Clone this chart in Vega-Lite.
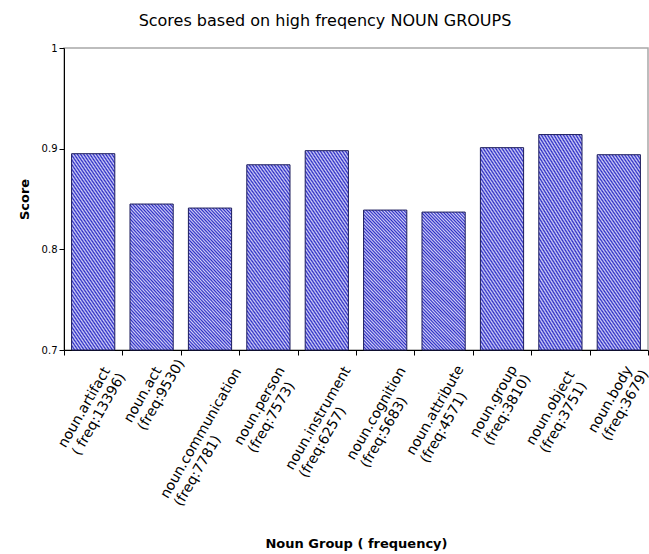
{
  "$schema": "https://vega.github.io/schema/vega-lite/v6.json",
  "autosize": "none",
  "width": 584,
  "height": 302,
  "padding": {"left": 64, "top": 48, "right": 1, "bottom": 204},
  "background": "white",
  "title": {
    "text": "Scores based on high freqency NOUN GROUPS",
    "font": "DejaVu Sans",
    "fontSize": 16,
    "fontWeight": "normal",
    "color": "black",
    "anchor": "middle",
    "dx": -31,
    "offset": 14
  },
  "config": {
    "view": {"stroke": "#a8a8a8", "strokeWidth": 1.5},
    "font": "DejaVu Sans"
  },
  "data": {
    "values": [
      {"label": "noun.artifact|( freq:13396)", "score": 0.895},
      {"label": "noun.act|(freq:9530)", "score": 0.845},
      {"label": "noun.communication|(freq:7781)", "score": 0.841},
      {"label": "noun.person|(freq:7573)", "score": 0.884},
      {"label": "noun.instrument|(freq:6257)", "score": 0.898},
      {"label": "noun.cognition|(freq:5683)", "score": 0.839},
      {"label": "noun.attribute|(freq:4571)", "score": 0.837},
      {"label": "noun.group|(freq:3810)", "score": 0.901},
      {"label": "noun.object|(freq:3751)", "score": 0.914},
      {"label": "noun.body|(freq:3679)", "score": 0.894}
    ]
  },
  "mark": {
    "type": "bar",
    "width": {"band": 0.74},
    "stroke": "#1c1c5c",
    "strokeWidth": 1,
    "fill": {
      "gradient": "linear",
      "x1": 0, "y1": 1, "x2": 0.39, "y2": -0.198,
      "stops": [
        {"offset": 0, "color": "#2a2ac4"},
        {"offset": 0.0089, "color": "#d4d4f8"},
        {"offset": 0.0179, "color": "#2a2ac4"},
        {"offset": 0.0268, "color": "#d4d4f8"},
        {"offset": 0.0357, "color": "#2a2ac4"},
        {"offset": 0.0446, "color": "#d4d4f8"},
        {"offset": 0.0536, "color": "#2a2ac4"},
        {"offset": 0.0625, "color": "#d4d4f8"},
        {"offset": 0.0714, "color": "#2a2ac4"},
        {"offset": 0.0804, "color": "#d4d4f8"},
        {"offset": 0.0893, "color": "#2a2ac4"},
        {"offset": 0.0982, "color": "#d4d4f8"},
        {"offset": 0.1071, "color": "#2a2ac4"},
        {"offset": 0.1161, "color": "#d4d4f8"},
        {"offset": 0.125, "color": "#2a2ac4"},
        {"offset": 0.1339, "color": "#d4d4f8"},
        {"offset": 0.1429, "color": "#2a2ac4"},
        {"offset": 0.1518, "color": "#d4d4f8"},
        {"offset": 0.1607, "color": "#2a2ac4"},
        {"offset": 0.1696, "color": "#d4d4f8"},
        {"offset": 0.1786, "color": "#2a2ac4"},
        {"offset": 0.1875, "color": "#d4d4f8"},
        {"offset": 0.1964, "color": "#2a2ac4"},
        {"offset": 0.2054, "color": "#d4d4f8"},
        {"offset": 0.2143, "color": "#2a2ac4"},
        {"offset": 0.2232, "color": "#d4d4f8"},
        {"offset": 0.2321, "color": "#2a2ac4"},
        {"offset": 0.2411, "color": "#d4d4f8"},
        {"offset": 0.25, "color": "#2a2ac4"},
        {"offset": 0.2589, "color": "#d4d4f8"},
        {"offset": 0.2679, "color": "#2a2ac4"},
        {"offset": 0.2768, "color": "#d4d4f8"},
        {"offset": 0.2857, "color": "#2a2ac4"},
        {"offset": 0.2946, "color": "#d4d4f8"},
        {"offset": 0.3036, "color": "#2a2ac4"},
        {"offset": 0.3125, "color": "#d4d4f8"},
        {"offset": 0.3214, "color": "#2a2ac4"},
        {"offset": 0.3304, "color": "#d4d4f8"},
        {"offset": 0.3393, "color": "#2a2ac4"},
        {"offset": 0.3482, "color": "#d4d4f8"},
        {"offset": 0.3571, "color": "#2a2ac4"},
        {"offset": 0.3661, "color": "#d4d4f8"},
        {"offset": 0.375, "color": "#2a2ac4"},
        {"offset": 0.3839, "color": "#d4d4f8"},
        {"offset": 0.3929, "color": "#2a2ac4"},
        {"offset": 0.4018, "color": "#d4d4f8"},
        {"offset": 0.4107, "color": "#2a2ac4"},
        {"offset": 0.4196, "color": "#d4d4f8"},
        {"offset": 0.4286, "color": "#2a2ac4"},
        {"offset": 0.4375, "color": "#d4d4f8"},
        {"offset": 0.4464, "color": "#2a2ac4"},
        {"offset": 0.4554, "color": "#d4d4f8"},
        {"offset": 0.4643, "color": "#2a2ac4"},
        {"offset": 0.4732, "color": "#d4d4f8"},
        {"offset": 0.4821, "color": "#2a2ac4"},
        {"offset": 0.4911, "color": "#d4d4f8"},
        {"offset": 0.5, "color": "#2a2ac4"},
        {"offset": 0.5089, "color": "#d4d4f8"},
        {"offset": 0.5179, "color": "#2a2ac4"},
        {"offset": 0.5268, "color": "#d4d4f8"},
        {"offset": 0.5357, "color": "#2a2ac4"},
        {"offset": 0.5446, "color": "#d4d4f8"},
        {"offset": 0.5536, "color": "#2a2ac4"},
        {"offset": 0.5625, "color": "#d4d4f8"},
        {"offset": 0.5714, "color": "#2a2ac4"},
        {"offset": 0.5804, "color": "#d4d4f8"},
        {"offset": 0.5893, "color": "#2a2ac4"},
        {"offset": 0.5982, "color": "#d4d4f8"},
        {"offset": 0.6071, "color": "#2a2ac4"},
        {"offset": 0.6161, "color": "#d4d4f8"},
        {"offset": 0.625, "color": "#2a2ac4"},
        {"offset": 0.6339, "color": "#d4d4f8"},
        {"offset": 0.6429, "color": "#2a2ac4"},
        {"offset": 0.6518, "color": "#d4d4f8"},
        {"offset": 0.6607, "color": "#2a2ac4"},
        {"offset": 0.6696, "color": "#d4d4f8"},
        {"offset": 0.6786, "color": "#2a2ac4"},
        {"offset": 0.6875, "color": "#d4d4f8"},
        {"offset": 0.6964, "color": "#2a2ac4"},
        {"offset": 0.7054, "color": "#d4d4f8"},
        {"offset": 0.7143, "color": "#2a2ac4"},
        {"offset": 0.7232, "color": "#d4d4f8"},
        {"offset": 0.7321, "color": "#2a2ac4"},
        {"offset": 0.7411, "color": "#d4d4f8"},
        {"offset": 0.75, "color": "#2a2ac4"},
        {"offset": 0.7589, "color": "#d4d4f8"},
        {"offset": 0.7679, "color": "#2a2ac4"},
        {"offset": 0.7768, "color": "#d4d4f8"},
        {"offset": 0.7857, "color": "#2a2ac4"},
        {"offset": 0.7946, "color": "#d4d4f8"},
        {"offset": 0.8036, "color": "#2a2ac4"},
        {"offset": 0.8125, "color": "#d4d4f8"},
        {"offset": 0.8214, "color": "#2a2ac4"},
        {"offset": 0.8304, "color": "#d4d4f8"},
        {"offset": 0.8393, "color": "#2a2ac4"},
        {"offset": 0.8482, "color": "#d4d4f8"},
        {"offset": 0.8571, "color": "#2a2ac4"},
        {"offset": 0.8661, "color": "#d4d4f8"},
        {"offset": 0.875, "color": "#2a2ac4"},
        {"offset": 0.8839, "color": "#d4d4f8"},
        {"offset": 0.8929, "color": "#2a2ac4"},
        {"offset": 0.9018, "color": "#d4d4f8"},
        {"offset": 0.9107, "color": "#2a2ac4"},
        {"offset": 0.9196, "color": "#d4d4f8"},
        {"offset": 0.9286, "color": "#2a2ac4"},
        {"offset": 0.9375, "color": "#d4d4f8"},
        {"offset": 0.9464, "color": "#2a2ac4"},
        {"offset": 0.9554, "color": "#d4d4f8"},
        {"offset": 0.9643, "color": "#2a2ac4"},
        {"offset": 0.9732, "color": "#d4d4f8"},
        {"offset": 0.9821, "color": "#2a2ac4"},
        {"offset": 0.9911, "color": "#d4d4f8"},
        {"offset": 1, "color": "#2a2ac4"}
      ]
    }
  },
  "encoding": {
    "x": {
      "field": "label",
      "type": "nominal",
      "sort": null,
      "scale": {"paddingInner": 0, "paddingOuter": 0},
      "axis": {
        "title": "Noun Group ( frequency)",
        "titleFont": "DejaVu Sans",
        "titleFontSize": 13,
        "titleFontWeight": "bold",
        "titleColor": "black",
        "titlePadding": 29,
        "labelExpr": "split(datum.label, '|')",
        "labelFont": "DejaVu Sans",
        "labelFontSize": 14,
        "labelColor": "black",
        "labelAngle": -60,
        "labelAlign": "left",
        "labelBaseline": "top",
        "labelLineHeight": 16,
        "labelOffset": {"expr": "-3.5*(length(split(datum.value,'|')[0])*0.62+0.354*(length(split(datum.value,'|')[0])-length(replace(split(datum.value,'|')[0],regexp('m','g'),'')))-0.32*(length(split(datum.value,'|')[0])-length(replace(split(datum.value,'|')[0],regexp('[.il]','g'),'')))-0.235*(length(split(datum.value,'|')[0])-length(replace(split(datum.value,'|')[0],regexp('[tfr]','g'),''))))-15"},
        "labelPadding": {"expr": "9+12.12*(length(split(datum.value,'|')[0])*0.62+0.354*(length(split(datum.value,'|')[0])-length(replace(split(datum.value,'|')[0],regexp('m','g'),'')))-0.32*(length(split(datum.value,'|')[0])-length(replace(split(datum.value,'|')[0],regexp('[.il]','g'),'')))-0.235*(length(split(datum.value,'|')[0])-length(replace(split(datum.value,'|')[0],regexp('[tfr]','g'),''))))"},
        "labelLimit": 400,
        "labelOverlap": false,
        "labelBound": false,
        "tickBand": "extent",
        "tickSize": 5,
        "tickColor": "black",
        "domainColor": "black",
        "grid": false
      }
    },
    "y": {
      "field": "score",
      "type": "quantitative",
      "scale": {"domain": [0.7, 1], "zero": false, "nice": false},
      "axis": {
        "title": "Score",
        "titleFont": "DejaVu Sans",
        "titleFontSize": 13,
        "titleFontWeight": "bold",
        "titleColor": "black",
        "titlePadding": 10,
        "values": [0.7, 0.8, 0.9, 1],
        "format": ".1~f",
        "labelFont": "DejaVu Sans",
        "labelFontSize": 10,
        "labelColor": "black",
        "labelPadding": 2,
        "tickSize": 5,
        "tickColor": "black",
        "domainColor": "black",
        "grid": false
      }
    },
    "y2": {"datum": 0.7}
  }
}
